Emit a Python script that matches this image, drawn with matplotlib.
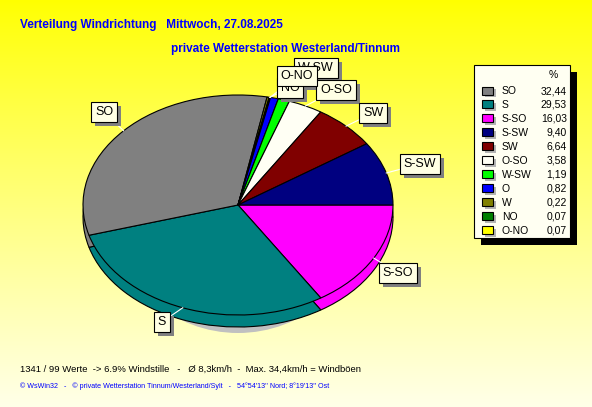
import numpy as np
import matplotlib
matplotlib.use("Agg")
import matplotlib.pyplot as plt
from matplotlib import font_manager, transforms
from matplotlib.patches import Rectangle, Ellipse

# ---------------- data ----------------
# pie order (clockwise from east)
pie_dirs = ["S-SO", "S", "SO", "W", "NO", "O-NO", "O", "W-SW", "O-SO", "SW", "S-SW"]
pie_vals = [16.03, 29.53, 32.44, 0.22, 0.07, 0.07, 0.82, 1.19, 3.58, 6.64, 9.40]
# legend order
legend_dirs = ["SO", "S", "S-SO", "S-SW", "SW", "O-SO", "W-SW", "O", "W", "NO", "O-NO"]
legend_vals = [32.44, 29.53, 16.03, 9.40, 6.64, 3.58, 1.19, 0.82, 0.22, 0.07, 0.07]
dir_colors = {"SO": "#808080", "S": "#008080", "S-SO": "#FF00FF", "S-SW": "#000080",
              "SW": "#800000", "O-SO": "#FFFFF4", "W-SW": "#00FF00", "O": "#0000FF",
              "W": "#808000", "NO": "#008000", "O-NO": "#FFFF00"}
label_dirs = ["SO", "S", "S-SO", "S-SW", "SW", "O-SO", "W-SW", "NO", "O-NO"]

title1 = "Verteilung Windrichtung   Mittwoch, 27.08.2025"
title2 = "private Wetterstation Westerland/Tinnum"
info = "1341 / 99 Werte  -> 6.9% Windstille   -   \u00d8 8,3km/h  -  Max. 34,4km/h = Windb\u00f6en"
footer = "\u00a9 WsWin32   -   \u00a9 private Wetterstation Tinnum/Westerland/Sylt   -   54\u00b054'13'' Nord; 8\u00b019'13'' Ost"

sans = "Liberation Sans"

W, H = 592, 407
fig = plt.figure(figsize=(W / 100, H / 100), dpi=100)

# background
bg = fig.add_axes([0, 0, 1, 1])
bg.set_xlim(0, W)
bg.set_ylim(H, 0)
bg.axis("off")
grad = np.linspace(0, 1, 256)
img = np.zeros((256, 2, 3))
img[:, :, 0] = 1.0
img[:, :, 1] = 1.0
img[:, :, 2] = (grad ** 0.9 * 0.91)[:, None]
bg.imshow(img, extent=[0, W, H, 0], aspect="auto", zorder=0)

# titles
bg.text(20, 25, title1, color="#0000FF", fontsize=8.5, fontweight="bold", family=sans,
        va="center", ha="left")
bg.text(171, 49, title2, color="#0000FF", fontsize=8.5, fontweight="bold", family=sans,
        va="center", ha="left")
bg.text(20, 369, info, color="black", fontsize=6.8, family=sans, va="center", ha="left")
bg.text(20, 386, footer, color="#0000FF", fontsize=5.15, family=sans, va="center", ha="left")

# legend
lx0, ly0, lx1, ly1 = 474, 65, 570, 238
bg.add_patch(Rectangle((lx0 + 7, ly0 + 7), lx1 - lx0, ly1 - ly0, facecolor="black",
                       edgecolor="none", zorder=2))
bg.add_patch(Rectangle((lx0, ly0), lx1 - lx0, ly1 - ly0, facecolor="#FFFFF2",
                       edgecolor="black", linewidth=0.8, zorder=3))
bg.text(553, 75, "%", fontsize=7.5, family=sans, ha="center", va="center", zorder=4)
for i, (d, v) in enumerate(zip(legend_dirs, legend_vals)):
    y = 91 + i * 13.97
    bg.add_patch(Rectangle((485, y - 2), 11, 8, facecolor="#B4B4B4", edgecolor="none", zorder=4))
    bg.add_patch(Rectangle((482, y - 4.5), 11, 8, facecolor=dir_colors[d], edgecolor="black",
                           linewidth=0.8, zorder=5))
    bg.text(502, y, d, fontsize=7.5, family=sans, ha="left", va="center", zorder=5)
    bg.text(567, y, f"{v:.2f}".replace(".", ","), fontsize=7.5, family=sans, ha="right",
            va="center", zorder=5)

# ---------------- pie ----------------
cx, cy, rx, ry = 238, 205, 155, 110
depth = 12 / ry
pax = fig.add_axes([(cx - 1.5 * rx) / W, (H - cy - 1.5 * ry) / H, 3 * rx / W, 3 * ry / H])
pax.patch.set_visible(False)

pax.add_patch(Ellipse((0, -(12 + 6) / ry), 2 * 120 / rx, 2.0, facecolor="#C0C0C0",
                      edgecolor="none", zorder=0))
cols = [dir_colors[d] for d in pie_dirs]
wp = dict(edgecolor="black", linewidth=0.8)
bottom, _ = pax.pie(pie_vals, colors=cols, startangle=0, counterclock=False,
                    center=(0, -depth), radius=1, wedgeprops=wp, normalize=True)
top, _ = pax.pie(pie_vals, colors=cols, startangle=0, counterclock=False,
                 center=(0, 0), radius=1, wedgeprops=wp, normalize=True)
for w in bottom:
    w.set_zorder(1)
for w in top:
    w.set_zorder(2)
pax.set_xlim(-1.5, 1.5)
pax.set_ylim(-1.5, 1.5)
pax.set_aspect("auto")
pax.axis("off")

label_pos = {"SO": (104, 112), "S": (162, 322), "S-SO": (398, 273), "S-SW": (420, 164),
             "SW": (373, 113), "O-SO": (336, 90), "W-SW": (316, 68), "NO": (290, 88),
             "O-NO": (297, 76)}
total = sum(pie_vals)
cum = np.cumsum([0] + pie_vals)
shadow_tr = transforms.offset_copy(pax.transData, fig=fig, x=4, y=-4, units="dots")
for d in label_dirs:
    i = pie_dirs.index(d)
    mid = -(cum[i] + pie_vals[i] / 2) / total * 2 * np.pi
    rxp, ryp = np.cos(mid), np.sin(mid)
    px, py = label_pos[d]
    lxp, lyp = (px - cx) / rx, (cy - py) / ry
    pax.plot([rxp, lxp], [ryp, lyp], color="white", lw=0.8, zorder=3, clip_on=False)
for d in label_dirs:
    px, py = label_pos[d]
    lxp, lyp = (px - cx) / rx, (cy - py) / ry
    pax.text(lxp, lyp, d, transform=shadow_tr, fontsize=9, family=sans, color=(0, 0, 0, 0),
             ha="center", va="center", zorder=4, clip_on=False,
             bbox=dict(boxstyle="square,pad=0.3", facecolor="#808080", edgecolor="none"))
    pax.text(lxp, lyp, d, fontsize=9, family=sans, color="black", ha="center", va="center",
             zorder=5, clip_on=False,
             bbox=dict(boxstyle="square,pad=0.3", facecolor="#FFFFE4", edgecolor="black",
                       linewidth=0.8))

fig.savefig("out.png", dpi=100)
